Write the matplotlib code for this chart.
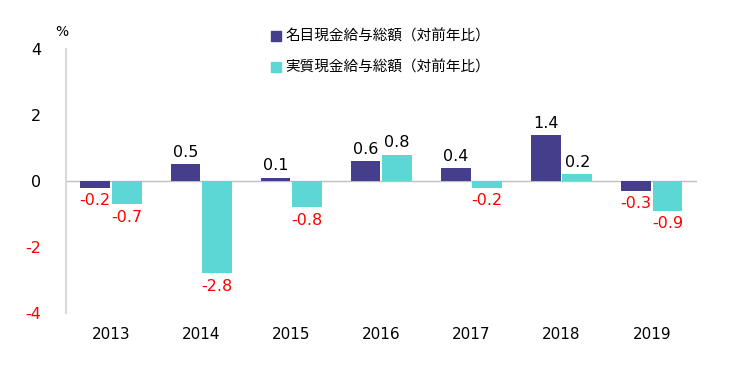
import matplotlib
matplotlib.use("Agg")
import matplotlib.pyplot as plt
from matplotlib.lines import Line2D
import numpy as np

plt.rcParams['font.family'] = ['DejaVu Sans', 'Noto Sans CJK JP']

years = ["2013", "2014", "2015", "2016", "2017", "2018", "2019"]
nominal = [-0.2, 0.5, 0.1, 0.6, 0.4, 1.4, -0.3]
real = [-0.7, -2.8, -0.8, 0.8, -0.2, 0.2, -0.9]
series_names = ["名目現金給与総額（対前年比）", "実質現金給与総額（対前年比）"]
yticks = [-4, -2, 0, 2, 4]

c_nom = "#453E8A"
c_real = "#5DD6D6"

fig = plt.figure(figsize=(7.5, 3.7), dpi=100)
ax = fig.add_axes([0.088, 0.154, 0.841, 0.714])

x = np.arange(len(years))
w = 0.33
off = 0.175
ax.bar(x - off, nominal, w, color=c_nom, zorder=2)
ax.bar(x + off, real, w, color=c_real, zorder=2)

def label(xs, vals):
    for xi, v in zip(xs, vals):
        if v >= 0:
            ax.annotate(f"{v:.1f}", (xi, v), xytext=(0, 3), textcoords="offset points",
                        ha="center", va="bottom", fontsize=11.5, color="black",
                        family="DejaVu Sans")
        else:
            ax.annotate(f"{v:.1f}", (xi, v), xytext=(0, -4), textcoords="offset points",
                        ha="center", va="top", fontsize=11.5, color="#FF0000",
                        family="DejaVu Sans")

label(x - off, nominal)
label(x + off, real)

ax.set_xlim(-0.5, len(years) - 0.5)
ax.set_ylim(-4, 4)
ax.set_yticks(yticks)
ax.set_yticklabels([str(t) for t in yticks], fontsize=11.5, family="DejaVu Sans")
for t, lab in zip(yticks, ax.get_yticklabels()):
    lab.set_color("#FF0000" if t < 0 else "black")
ax.set_xticks(x)
ax.set_xticklabels(years, fontsize=11, family="DejaVu Sans")
ax.tick_params(axis="both", length=0)
ax.tick_params(axis="y", pad=18)
ax.tick_params(axis="x", pad=10)

for s in ["top", "right", "bottom"]:
    ax.spines[s].set_visible(False)
ax.spines["left"].set_color("#D9D9D9")
ax.spines["left"].set_linewidth(1.5)
ax.axhline(0, color="#BFBFBF", linewidth=1, zorder=1)

fig.text(62 / 750, 1 - 32 / 370, "%", fontsize=10, ha="center", va="center")

handles = [Line2D([], [], marker="s", linestyle="none", markersize=7, color=c_nom),
           Line2D([], [], marker="s", linestyle="none", markersize=7, color=c_real)]
fig.legend(handles, series_names, loc="upper left", bbox_to_anchor=(0.355, 0.935),
           frameon=False, prop={"family": ["Noto Sans CJK JP"], "size": 10.5},
           handlelength=0.6, handletextpad=0.3, labelspacing=1.15, borderaxespad=0)

fig.savefig("out.png", dpi=100)
